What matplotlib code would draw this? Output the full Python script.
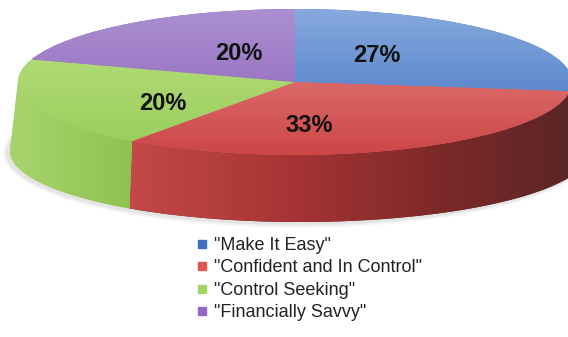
import numpy as np
import matplotlib.pyplot as plt
from matplotlib.patches import Polygon, Ellipse
from matplotlib.lines import Line2D
from matplotlib.colors import to_rgb

plt.rcParams['font.family'] = ['Liberation Sans', 'DejaVu Sans']

labels = ['"Make It Easy"', '"Confident and In Control"',
          '"Control Seeking"', '"Financially Savvy"']
shares = [27, 33, 20, 20]
pct_labels = ["27%", "33%", "20%", "20%"]

legend_colors = ["#4070c2", "#e05656", "#a4d664", "#9568c6"]
top_light = ["#86a9de", "#ec8a8a", "#bce283", "#ab8fd2"]
top_dark = ["#3e6fc0", "#cc4646", "#98cc5a", "#8a60b4"]

W, H = 568, 337
# top ellipse in pixels (from top-left)
cx, cy, rx, ry = 295, 82, 277, 73
# bottom ellipse of the side wall (pixels)
bcx, bcy, brx, bry = 300, 151, 290, 71


def px(x):
    return (x - cx) / rx


def py(y):
    return (cy - y) / ry


fig = plt.figure(figsize=(W / 100, H / 100), dpi=100)
ax = fig.add_axes([0, 0, 1, 1])

wedges, _ = ax.pie(shares, startangle=90, counterclock=False, radius=1,
                   center=(0, 0), wedgeprops=dict(linewidth=0))
ax.set_aspect("auto")
ax.axis("off")
extent = (px(0), px(W), py(H), py(0))

cols = np.arange(W)
rows = np.arange(H)


def gradient(stops, colors, horizontal):
    rgb = np.array([to_rgb(c) for c in colors])
    pos = cols if horizontal else rows
    line = np.stack([np.interp(pos, stops, rgb[:, k]) for k in range(3)], axis=-1)
    if horizontal:
        return np.broadcast_to(line[None, :, :], (H, W, 3))
    return np.broadcast_to(line[:, None, :], (H, W, 3))


# soft shadow under the lower-left rim
for k, a in enumerate([0.04, 0.05, 0.07]):
    grow = 4 - 1.5 * k
    sh = Ellipse((px(bcx - 3), py(bcy + 2)), 2 * (brx + grow) / rx, 2 * (bry + grow) / ry,
                 facecolor="#555555", edgecolor="none", alpha=a, zorder=0.5)
    ax.add_patch(sh)

# side wall colours (horizontal shading)
side_grad = [
    ([300, 568], ["#2f5ea8", "#1f3f75"]),
    ([133, 300, 450, 568], ["#c44848", "#a53333", "#7a2828", "#5c2626"]),
    ([12, 133], ["#a8d46e", "#8ec250"]),
    ([12, 300], ["#7f57a8", "#6a4590"]),
]

for w, (stops, cs) in zip(wedges, side_grad):
    t1, t2 = w.theta1, w.theta2
    for lo, hi in [(-180, 0), (180, 360)]:
        a1, a2 = max(t1, lo), min(t2, hi)
        if a2 <= a1:
            continue
        t = np.radians(np.linspace(a1, a2, 120))
        top = np.column_stack([np.cos(t), np.sin(t)])
        bot = np.column_stack([px(bcx + brx * np.cos(t)), py(bcy - bry * np.sin(t))])
        poly = Polygon(np.vstack([top, bot[::-1]]), closed=True,
                       facecolor=cs[-1], edgecolor="none", zorder=1)
        ax.add_patch(poly)
        im = ax.imshow(gradient(stops, cs, True), extent=extent, origin="upper",
                       aspect="auto", zorder=1.5, interpolation="bilinear")
        im.set_clip_path(poly)

# top surfaces (vertical shading)
for w, cl, cd in zip(wedges, top_light, top_dark):
    w.set_facecolor(cd)
    w.set_zorder(2)
    im = ax.imshow(gradient([cy - ry, cy + ry], [cl, cd], False), extent=extent,
                   origin="upper", aspect="auto", zorder=2.5, interpolation="bilinear")
    im.set_clip_path(w)

ax.set_xlim(px(0), px(W))
ax.set_ylim(py(H), py(0))

# percentage labels (pixel positions)
label_pos = [(377, 56), (309, 125), (163, 104), (239, 53)]
for (lx, ly), txt in zip(label_pos, pct_labels):
    ax.text(px(lx), py(ly), txt, ha="center", va="center", fontsize=17,
            fontweight="bold", color="#111111", zorder=5)

handles = [Line2D([], [], ls="none", marker="s", ms=5.5, mfc=c, mec=c)
           for c in legend_colors]
fig.legend(handles, labels, loc="upper left", bbox_to_anchor=(196 / W, 1 - 237 / H),
           frameon=False, fontsize=13, handlelength=0.7, handletextpad=0.3,
           labelspacing=0.3, borderpad=0, borderaxespad=0, labelcolor="#222222")

plt.savefig("out.png", dpi=100)
